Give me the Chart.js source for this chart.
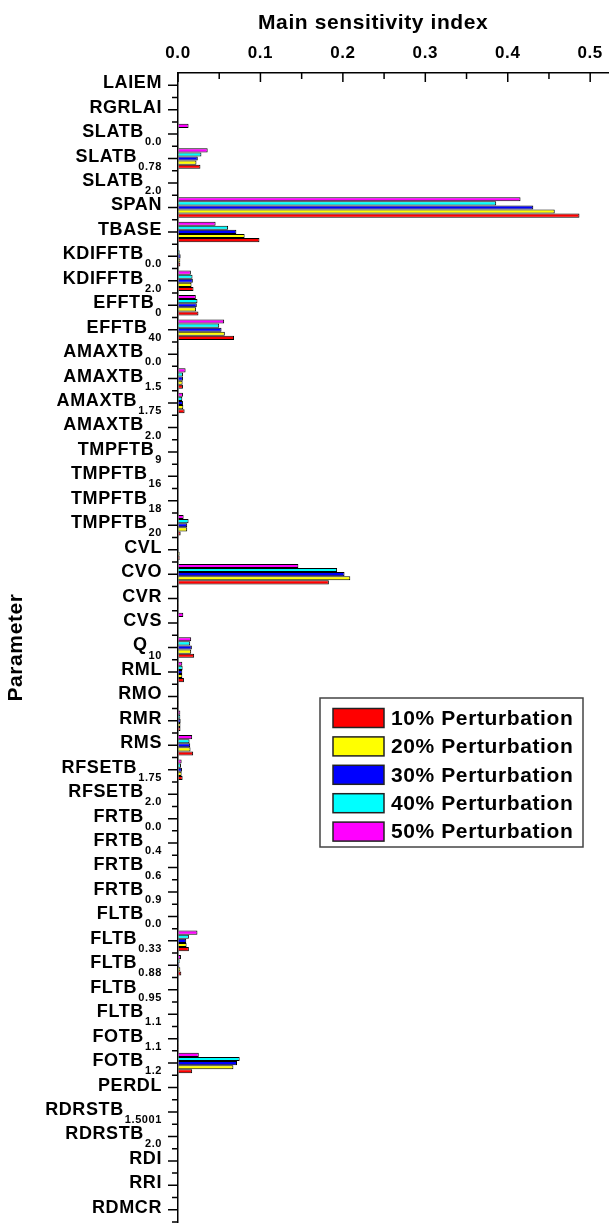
<!DOCTYPE html>
<html>
<head>
<meta charset="utf-8">
<script src="https://cdn.jsdelivr.net/npm/chart.js@4.4.1/dist/chart.umd.min.js"></script>
<style>
  html, body { margin: 0; padding: 0; background: #fff; }
  #wrap { width: 611px; height: 1226px; }
</style>
</head>
<body>
<div id="wrap"><canvas id="chart"></canvas></div>
<script>
// parameter names and their subscripts (top to bottom)
const paramNames = ['LAIEM','RGRLAI','SLATB','SLATB','SLATB','SPAN','TBASE','KDIFFTB','KDIFFTB','EFFTB','EFFTB',
  'AMAXTB','AMAXTB','AMAXTB','AMAXTB','TMPFTB','TMPFTB','TMPFTB','TMPFTB','CVL','CVO','CVR','CVS','Q',
  'RML','RMO','RMR','RMS','RFSETB','RFSETB','FRTB','FRTB','FRTB','FRTB','FLTB','FLTB','FLTB','FLTB','FLTB',
  'FOTB','FOTB','PERDL','RDRSTB','RDRSTB','RDI','RRI','RDMCR'];
const paramSubs = ['','','0.0','0.78','2.0','','','0.0','2.0','0','40',
  '0.0','1.5','1.75','2.0','9','16','18','20','','','','','10',
  '','','','','1.75','2.0','0.0','0.4','0.6','0.9','0.0','0.33','0.88','0.95','1.1',
  '1.1','1.2','','1.5001','2.0','','',''];

// main sensitivity index per perturbation level
const pert10 = [0,0,0,0.0272,0,0.487,0.0988,0.0028,0.0188,0.0248,
  0.068,0.001,0.006,0.008,0,0,0,0,0.0032,0.002,
  0.183,0.001,0,0.0196,0.0072,0.001,0.003,0.0184,0.0056,0,
  0,0,0,0,0.001,0.0132,0.004,0,0,0.001,
  0.0172,0,0,0,0,0,0];
const pert20 = [0,0,0.001,0.0224,0,0.457,0.0808,0.0028,0.0164,0.022,
  0.0568,0.001,0.0056,0.0064,0,0,0,0,0.0112,0.002,
  0.209,0.001,0,0.016,0.0052,0.001,0.003,0.0152,0.0044,0,
  0,0,0,0,0.001,0.0104,0.0028,0,0,0.001,
  0.0672,0,0,0,0,0,0];
const pert30 = [0,0,0.001,0.024,0,0.431,0.0708,0.0032,0.018,0.0228,
  0.0528,0.001,0.006,0.006,0,0,0,0,0.0112,0.001,
  0.202,0.001,0,0.0168,0.0052,0.001,0.0032,0.0148,0.0048,0,
  0,0,0,0,0.001,0.01,0.0016,0,0,0.001,
  0.0716,0,0,0,0,0,0];
const pert40 = [0,0,0.001,0.0284,0,0.386,0.0608,0.002,0.0176,0.0236,
  0.05,0.001,0.006,0.0052,0,0,0,0,0.0128,0,
  0.193,0.001,0,0.0148,0.0056,0.001,0.0028,0.014,0.0036,0,
  0,0,0,0,0,0.0132,0.002,0,0,0,
  0.0748,0,0,0,0,0,0];
const pert50 = [0,0,0.0128,0.036,0,0.4155,0.0456,0.0005,0.0156,0.0216,
  0.056,0,0.0092,0.006,0,0,0,0,0.0068,0,
  0.146,0,0.0064,0.016,0.0052,0,0.0028,0.0172,0.0044,0,
  0,0,0,0,0,0.0236,0.0036,0,0,0,
  0.0252,0,0,0,0,0,0];

const seriesLabels = ['10% Perturbation','20% Perturbation','30% Perturbation','40% Perturbation','50% Perturbation'];
const seriesColors = ['#ff0000','#ffff00','#0000ff','#00ffff','#ff00ff'];
const seriesData = [pert10, pert20, pert30, pert40, pert50];

const xTitle = 'Main sensitivity index';
const yTitle = 'Parameter';

const FONT = "'Liberation Sans', Arial, sans-serif";
const labels = paramNames.map((n, i) => paramSubs[i] ? n + ' ' + paramSubs[i] : n);

// 50% on top of each group, 10% at the bottom
const datasets = [4,3,2,1,0].map(k => ({
  label: seriesLabels[k],
  data: seriesData[k],
  backgroundColor: seriesColors[k],
  borderColor: '#000',
  borderWidth: 1,
  categoryPercentage: 0.84,
  barPercentage: 1.0
}));

const spacing = {
  id: 'spacing',
  beforeDraw(chart) { chart.ctx.letterSpacing = '0.6px'; }
};

// x title sits a bit left of the axis centre in the original
const topTitle = {
  id: 'topTitle',
  afterDraw(chart) {
    const ctx = chart.ctx;
    const xs = chart.scales.x;
    ctx.save();
    ctx.fillStyle = '#000';
    ctx.font = 'bold 21px ' + FONT;
    ctx.textAlign = 'center';
    ctx.textBaseline = 'middle';
    ctx.fillText(xTitle, (xs.left + xs.right) / 2 - 20, 23);
    ctx.restore();
  }
};

// tick marks: x ticks point into the plot, y ticks point outward, with minor ticks
const tickMarks = {
  id: 'tickMarks',
  afterDraw(chart) {
    const ctx = chart.ctx;
    const xs = chart.scales.x, ys = chart.scales.y;
    const top = chart.chartArea.top, left = chart.chartArea.left;
    ctx.save();
    ctx.strokeStyle = '#000';
    ctx.lineWidth = 1.5;
    ctx.beginPath();
    const vals = xs.ticks.map(t => t.value);
    vals.forEach((v, i) => {
      const px = xs.getPixelForValue(v);
      ctx.moveTo(px, top); ctx.lineTo(px, top + 9);
      const mid = v + 0.05;
      if (mid <= xs.max) {
        const pm = xs.getPixelForValue(mid);
        ctx.moveTo(pm, top); ctx.lineTo(pm, top + 6);
      }
    });
    for (let i = 0; i < labels.length; i++) {
      const py = ys.getPixelForValue(i);
      ctx.moveTo(left - 10, py); ctx.lineTo(left, py);
      const pe = ys.getPixelForValue(i + 0.5);
      ctx.moveTo(left - 6, pe); ctx.lineTo(left, pe);
    }
    ctx.stroke();
    ctx.restore();
  }
};

// parameter names with subscripts
const paramLabels = {
  id: 'paramLabels',
  afterDraw(chart) {
    const ctx = chart.ctx;
    const ys = chart.scales.y;
    const right = chart.chartArea.left - 16;
    ctx.save();
    ctx.fillStyle = '#000';
    ctx.textBaseline = 'middle';
    paramNames.forEach((name, i) => {
      const py = ys.getPixelForValue(i);
      const sub = paramSubs[i];
      let subW = 0;
      if (sub) {
        ctx.font = 'bold 11px ' + FONT;
        subW = ctx.measureText(sub).width;
        ctx.textAlign = 'left';
        ctx.fillText(sub, right - subW, py + 8);
      }
      ctx.font = 'bold 18px ' + FONT;
      ctx.textAlign = 'right';
      ctx.fillText(name, right - subW - (sub ? 1 : 0), py - 2);
    });
    ctx.restore();
  }
};

// boxed legend inside the plot
const boxLegend = {
  id: 'boxLegend',
  afterDraw(chart) {
    const ctx = chart.ctx;
    const bx = 320, by = 698, bw = 263, bh = 149;
    ctx.save();
    ctx.fillStyle = '#fff';
    ctx.fillRect(bx, by, bw, bh);
    ctx.strokeStyle = '#444';
    ctx.lineWidth = 1.5;
    ctx.strokeRect(bx, by, bw, bh);
    ctx.font = 'bold 21px ' + FONT;
    ctx.textBaseline = 'middle';
    ctx.textAlign = 'left';
    seriesLabels.forEach((lab, i) => {
      const cy = by + 20 + i * 28.4;
      ctx.fillStyle = seriesColors[i];
      ctx.fillRect(bx + 13, cy - 9.5, 51, 19);
      ctx.strokeStyle = '#222';
      ctx.strokeRect(bx + 13, cy - 9.5, 51, 19);
      ctx.fillStyle = '#000';
      ctx.fillText(lab, bx + 71, cy + 1);
    });
    ctx.restore();
  }
};

new Chart(document.getElementById('chart'), {
  type: 'bar',
  data: { labels, datasets },
  options: {
    indexAxis: 'y',
    responsive: true,
    maintainAspectRatio: false,
    animation: false,
    devicePixelRatio: 1,
    layout: { autoPadding: false, padding: { top: 0, right: 0, bottom: 4, left: 0 } },
    plugins: {
      legend: { display: false },
      tooltip: { enabled: true }
    },
    scales: {
      x: {
        type: 'linear',
        position: 'top',
        min: 0,
        max: 0.522,
        ticks: {
          stepSize: 0.1,
          includeBounds: false,
          maxRotation: 0,
          padding: 9,
          color: '#000',
          font: { family: FONT, size: 17, weight: 'bold' },
          callback: v => v.toFixed(1)
        },
        grid: { drawOnChartArea: false, drawTicks: false },
        border: { color: '#000', width: 1.5 },
        title: { display: false },
        afterFit(s) { s.height = 73; }
      },
      y: {
        type: 'category',
        ticks: { display: false },
        grid: { drawOnChartArea: false, drawTicks: false },
        border: { color: '#000', width: 1.5 },
        title: {
          display: true,
          text: yTitle,
          color: '#000',
          font: { family: FONT, size: 21, weight: 'bold' },
          padding: { top: 4, bottom: 0 }
        },
        afterFit(s) { s.width = 178; }
      }
    }
  },
  plugins: [spacing, topTitle, tickMarks, paramLabels, boxLegend]
});
</script>
</body>
</html>
